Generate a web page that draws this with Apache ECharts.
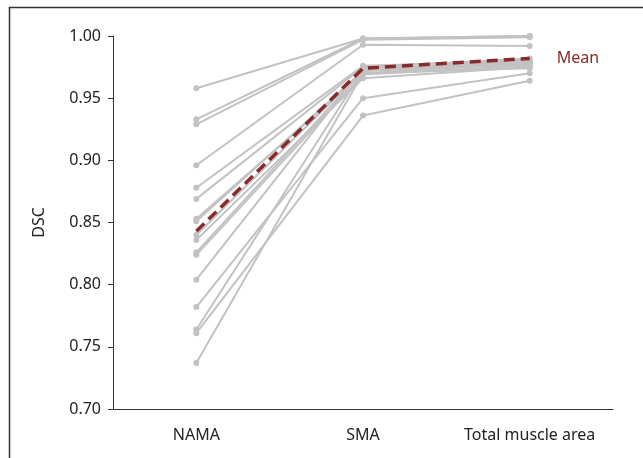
<!DOCTYPE html>
<html>
<head>
<meta charset="utf-8">
<script src="https://cdn.jsdelivr.net/npm/echarts@6/dist/echarts.min.js"></script>
<style>
  html, body { margin: 0; padding: 0; background: #fff; }
  #main { width: 643px; height: 458px; }
</style>
</head>
<body>
<div id="main"></div>
<script>
var categories = ['NAMA', 'SMA', 'Total muscle area']
var yTicks = [0.70, 0.75, 0.80, 0.85, 0.90, 0.95, 1.00]

// one row per case: NAMA, SMA, total muscle area
var cases = [
  [0.958, 0.998, 1.000],
  [0.933, 0.998, 1.000],
  [0.929, 0.997, 0.999],
  [0.896, 0.993, 0.992],
  [0.878, 0.976, 0.980],
  [0.869, 0.975, 0.982],
  [0.853, 0.970, 0.978],
  [0.851, 0.972, 0.979],
  [0.840, 0.972, 0.981],
  [0.836, 0.966, 0.975],
  [0.826, 0.972, 0.977],
  [0.824, 0.969, 0.976],
  [0.804, 0.974, 0.979],
  [0.782, 0.950, 0.970],
  [0.764, 0.972, 0.978],
  [0.761, 0.936, 0.964],
  [0.737, 0.970, 0.974]
]
var meanValues = [0.843, 0.974, 0.982]

var gray = '#c2c2c2'
var red = '#8b2a2a'
var font = 'Noto Sans'

function main() {
  var myChart = echarts.init(document.getElementById('main'))
  var series = cases.map(function (row) {
    return {
      type: 'line',
      data: row,
      symbol: 'circle',
      symbolSize: 6,
      silent: true,
      lineStyle: { color: gray, width: 2 },
      itemStyle: { color: gray }
    }
  })
  series.push({
    type: 'line',
    name: 'Mean',
    data: meanValues,
    symbol: 'none',
    z: 5,
    lineStyle: { color: red, width: 3.5, type: [11, 6] },
    endLabel: {
      show: true,
      formatter: 'Mean',
      color: red,
      fontFamily: font,
      fontSize: 16,
      distance: 27
    }
  })

  var option = {
    animation: false,
    grid: { left: 113, right: 30, top: 36, bottom: 49 },
    xAxis: {
      type: 'category',
      data: categories,
      axisLine: { lineStyle: { color: '#333', width: 1 } },
      axisTick: { alignWithLabel: true, inside: true, length: 4, lineStyle: { color: '#333' } },
      axisLabel: { color: '#222', fontFamily: font, fontSize: 16, margin: 18, interval: 0, hideOverlap: false }
    },
    yAxis: {
      type: 'value',
      min: 0.70,
      max: 1.00,
      interval: 0.05,
      name: 'DSC',
      nameLocation: 'middle',
      nameGap: 66,
      nameTextStyle: { color: '#222', fontFamily: font, fontSize: 16 },
      splitLine: { show: false },
      axisLine: { show: true, lineStyle: { color: '#333', width: 1 } },
      axisTick: { show: true, length: 5, lineStyle: { color: '#333' } },
      axisLabel: {
        color: '#222',
        fontFamily: font,
        fontSize: 16,
        margin: 12,
        formatter: function (v) {
          var t = yTicks.find(function (y) { return Math.abs(y - v) < 1e-6 })
          return t !== undefined ? t.toFixed(2) : ''
        }
      }
    },
    graphic: [
      { type: 'line', shape: { x1: 9, y1: 7.5, x2: 643, y2: 7.5 }, style: { stroke: '#333', lineWidth: 1.5 } },
      { type: 'line', shape: { x1: 9.5, y1: 7, x2: 9.5, y2: 458 }, style: { stroke: '#333', lineWidth: 1.5 } }
    ],
    series: series
  }
  myChart.setOption(option)
}

window.onload = main
</script>
</body>
</html>
